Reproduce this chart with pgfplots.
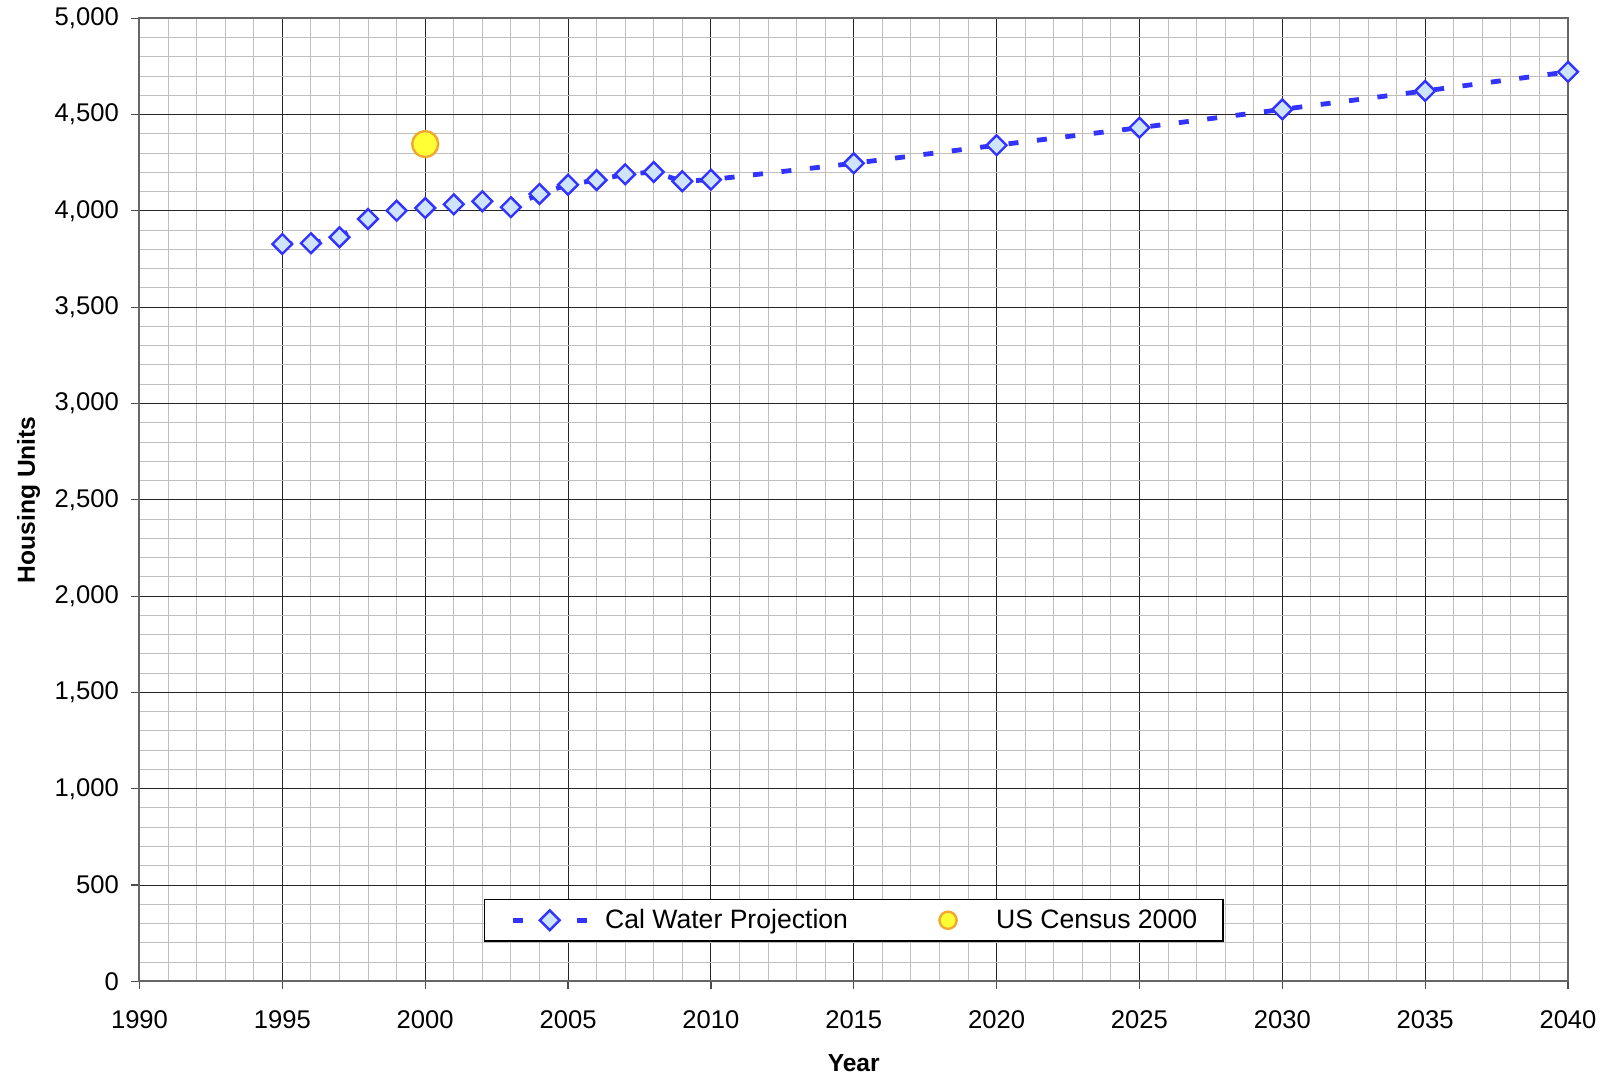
\documentclass[border=0pt]{standalone}
\usepackage{pgfplots}
\pgfplotsset{compat=1.18}
\usepackage{fontspec}
\setmainfont{Liberation Sans}
\definecolor{serblue}{RGB}{51,51,255}
\definecolor{mkfill}{RGB}{206,228,252}
\definecolor{cyellow}{RGB}{255,255,51}
\definecolor{corange}{RGB}{240,168,48}
\begin{document}
\begin{tikzpicture}
\begin{axis}[name=ax, at={(0pt,0pt)}, anchor=south west,
  scale only axis, width=714.25pt, height=481.5pt,
  xmin=1990, xmax=2040, ymin=0, ymax=5000,
  xtick={1990,1995,...,2040}, ytick={0,500,...,5000},
  minor x tick num=4, minor y tick num=4,
  grid=both,
  major grid style={black!85, line width=0.5pt},
  minor grid style={black!25, line width=0.5pt},
  axis line style={black!60, line width=1pt},
  tick pos=left, tick align=outside,
  major tick length=4pt, minor tick length=0pt,
  tick style={black!70, line width=0.6pt},
  /pgf/number format/assume math mode=true,
  /pgf/number format/1000 sep={,},
  ticklabel style={font=\fontsize{12.8}{15}\selectfont},
  xticklabel style={/pgf/number format/1000 sep={}, anchor=base, inner sep=0pt, yshift=-19.8pt},
  yticklabel style={anchor=east, inner sep=0pt, xshift=-6.15pt},
  xlabel={Year}, ylabel={Housing Units},
  label style={font=\fontsize{12.3}{15}\selectfont\bfseries},
  xlabel style={at={(rel axis cs:0.5,-0.0854)}, anchor=center},
  ylabel style={at={(rel axis cs:-0.0777,0.5)}, anchor=center},
  clip=false,
  legend columns=2,
  legend style={at={(rel axis cs:0.5,0.0411)}, anchor=south,
    line width=0.7pt, fill=white,
    font=\fontsize{13.3}{16}\selectfont,
    inner xsep=13pt, inner ysep=4.8pt,
    nodes={inner sep=0pt},
    /tikz/every odd column/.append style={column sep=8pt},
    /tikz/every even column/.append style={column sep=36pt}},
]
\addplot[serblue, line width=2.4pt, dash pattern=on 5pt off 9.3pt,
  mark=square*, mark size=3.5pt,
  mark options={solid, rotate=45, fill=mkfill, draw=serblue, line width=1.2pt},
  legend image code/.code={%
    \draw[dash pattern=on 5pt off 27pt] (0pt,0pt) -- (37pt,0pt);
    \draw plot[mark=square*, mark size=3.5pt, mark options={solid, rotate=45, fill=mkfill, draw=serblue, line width=1.2pt}] coordinates {(18.5pt,0pt)};}
] coordinates {
(1995,3828) (1996,3832) (1997,3863) (1998,3958) (1999,4001) (2000,4015)
(2001,4034) (2002,4050) (2003,4019) (2004,4088) (2005,4136) (2006,4160)
(2007,4190) (2008,4202) (2009,4154) (2010,4162) (2015,4247) (2020,4341)
(2025,4432) (2030,4527) (2035,4623) (2040,4722)
};
\addlegendentry{Cal Water Projection}
\addplot[only marks, mark=*, mark size=6.5pt,
  mark options={fill=cyellow, draw=corange, line width=1.2pt},
  legend image code/.code={%
    \path[draw=none] (0pt,0pt) (30pt,0pt);
    \draw plot[mark=*, mark size=4.3pt, mark options={fill=cyellow, draw=corange, line width=1.2pt}] coordinates {(14pt,0pt)};}
] coordinates {(2000,4347)};
\addlegendentry{US Census 2000}
\end{axis}
\pgfresetboundingbox
\useasboundingbox ([shift={(-69.75pt,-48.35pt)}]ax.south west) rectangle ([shift={(734.25pt,490.65pt)}]ax.south west);
\end{tikzpicture}
\end{document}
